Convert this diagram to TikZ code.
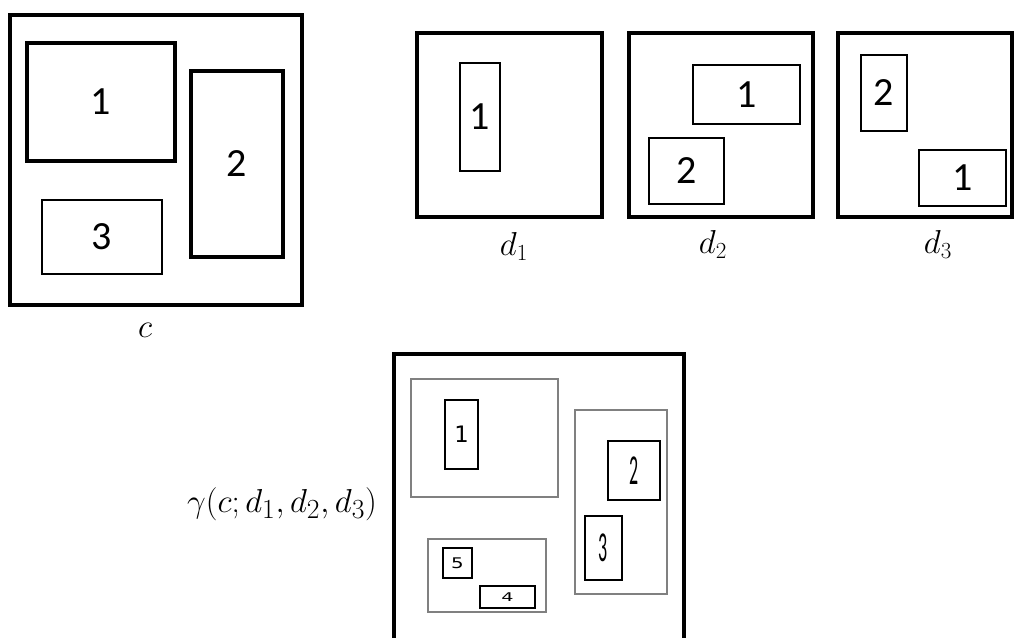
\documentclass[tikz,border=0pt]{standalone}
\usepackage{fontspec}
\usepackage{graphicx}
\newfontfamily\digfont{Carlito}
\newfontfamily\vdfont{DejaVu Sans}
\tikzset{
  outerbox/.style={draw, line width=3pt, inner sep=0pt, outer sep=0pt},
  innerbox/.style={draw, line width=2.8pt, inner sep=0pt, outer sep=0pt, font=\digfont\fontsize{30}{32}\selectfont},
  thinbox/.style={draw, line width=1.7pt, inner sep=0pt, outer sep=0pt, font=\digfont\fontsize{30}{32}\selectfont},
  smallbox/.style={draw, line width=1.5pt, inner sep=0pt, outer sep=0pt},
  graybox/.style={draw=black!50, line width=0.8pt, inner sep=0pt, outer sep=0pt},
  mlabel/.style={inner sep=0pt, font=\fontsize{25}{30}\selectfont},
}
\newcommand\bx[7]{\node[#6, minimum width={(#4-#2)*0.75pt}, minimum height={(#5-#3)*0.75pt}] (#1) at ({(#2+#4)/2},{(#3+#5)/2}) {#7};}
\begin{document}
\begin{tikzpicture}[x=0.75pt,y=-0.75pt]
\useasboundingbox (0,0) rectangle (1016,637);
% c
\bx{c}{10}{15}{302}{305}{outerbox}{}
\bx{c1}{27}{43}{175}{161}{innerbox}{1}
\bx{c2}{191}{71}{283}{257}{innerbox}{2}
\bx{c3}{42}{200}{162}{274}{thinbox}{3}
\node[mlabel] (lc) at (145,330) {$c$};
% d1
\bx{d1}{417}{33}{602}{217}{outerbox}{}
\bx{d11}{460}{63}{500}{171}{thinbox}{1}
\node[mlabel] (ld1) at (514,246) {$d_1$};
% d2
\bx{d2}{629}{33}{813}{217}{outerbox}{}
\bx{d21}{693}{65}{800}{124}{thinbox}{1}
\bx{d22}{649}{138}{724}{204}{thinbox}{2}
\node[mlabel] (ld2) at (713,244) {$d_2$};
% d3
\bx{d3}{838}{33}{1012}{217}{outerbox}{}
\bx{d32}{861}{55}{907}{131}{thinbox}{2}
\bx{d31}{919}{150}{1006}{206}{thinbox}{1}
\node[mlabel] (ld3) at (938,244) {$d_3$};
% gamma
\begin{scope}
\clip (0,0) rectangle (1016,637);
\bx{g}{394}{354}{684}{700}{outerbox}{}
\end{scope}
\node[mlabel, font=\fontsize{27.3}{30}\selectfont] (lg) at (282,504) {$\gamma(c;d_1,d_2,d_3)$};
\bx{ga}{411}{379}{558}{497}{graybox}{}
\bx{gb}{575}{410}{667}{594}{graybox}{}
\bx{gc}{428}{539}{546}{612}{graybox}{}
\bx{g1}{445}{400}{478}{469}{smallbox}{\vdfont\fontsize{17}{19}\selectfont 1}
\bx{g2}{608}{441}{660}{500}{smallbox}{\scalebox{0.42}[1]{\digfont\fontsize{32}{34}\selectfont 2}}
\bx{g3}{585}{516}{622}{580}{smallbox}{\scalebox{0.42}[1]{\digfont\fontsize{32}{34}\selectfont 3}}
\bx{g5}{443}{548}{472}{578}{smallbox}{\scalebox{1.35}[1]{\vdfont\fontsize{11}{12}\selectfont 5}}
\bx{g4}{480}{586}{535}{608}{smallbox}{\scalebox{1.6}[1]{\vdfont\fontsize{9}{10}\selectfont 4}}
\end{tikzpicture}
\end{document}
